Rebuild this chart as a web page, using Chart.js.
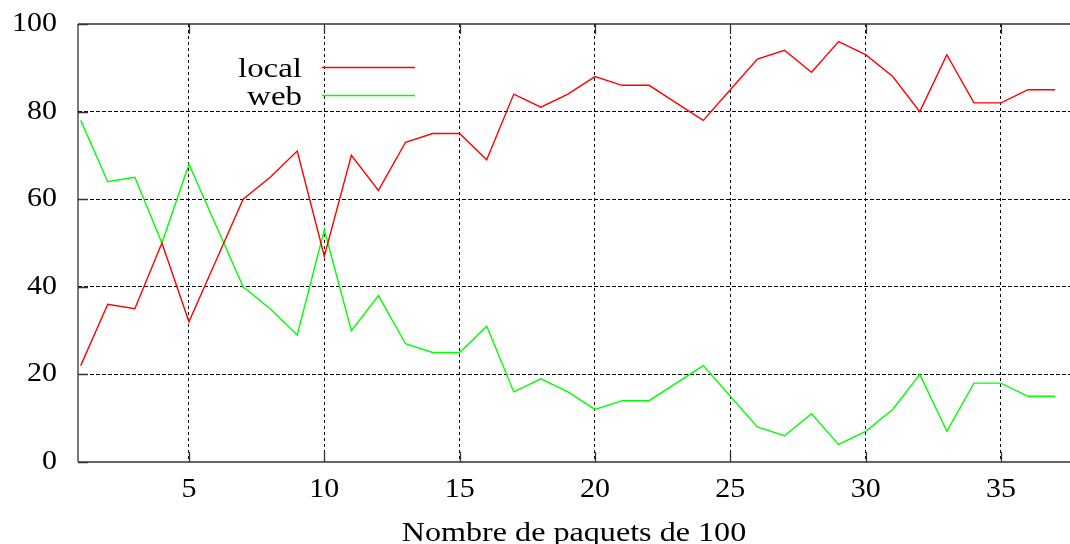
<!DOCTYPE html>
<html>
<head>
<meta charset="utf-8">
<script src="https://cdn.jsdelivr.net/npm/chart.js@4/dist/chart.umd.min.js"></script>
<style>
  html, body { margin: 0; padding: 0; background: #fff; }
  canvas { display: block; }
</style>
</head>
<body>
<canvas id="c" width="1070" height="544" style="width:1070px;height:544px"></canvas>
<script>
const packets = [1,2,3,4,5,6,7,8,9,10,11,12,13,14,15,16,17,18,19,20,21,22,23,24,25,26,27,28,29,30,31,32,33,34,35,36,37];
const localValues = [22,36,35,50,32,46,60,65,71,47,70,62,73,75,75,69,84,81,84,88,86,86,82,78,85,92,94,89,96,93,88,80,93,82,82,85,85];
const webValues = [78,64,65,50,68,54,40,35,29,53,30,38,27,25,25,31,16,19,16,12,14,14,18,22,15,8,6,11,4,7,12,20,7,18,18,15,15];
const xTicks = [5,10,15,20,25,30,35];
const yTicks = [0,20,40,60,80,100];
const seriesNames = ['local', 'web'];
const xTitle = 'Nombre de paquets de 100';

const FONT = '27px "Liberation Serif", "Times New Roman", serif';

function stretchText(ctx, text, x, y, sx, align, baseline) {
  ctx.save();
  ctx.translate(x, y);
  ctx.scale(sx, 1);
  ctx.font = FONT;
  ctx.fillStyle = '#000';
  ctx.textAlign = align;
  ctx.textBaseline = baseline;
  ctx.fillText(text, 0, 0);
  ctx.restore();
}

const framePlugin = {
  id: 'frame',
  beforeDatasetsDraw(chart) {
    const ctx = chart.ctx;
    const a = chart.chartArea;
    const xs = chart.scales.x, ys = chart.scales.y;
    ctx.save();
    ctx.strokeStyle = '#333';
    ctx.lineWidth = 1.3;
    ctx.beginPath();
    ctx.moveTo(a.left, a.top); ctx.lineTo(a.right, a.top);
    ctx.moveTo(a.left, a.top); ctx.lineTo(a.left, a.bottom);
    ctx.moveTo(a.left, a.bottom); ctx.lineTo(a.right, a.bottom);
    const tl = 10;
    xTicks.forEach(v => {
      const px = Math.round(xs.getPixelForValue(v)) + 0.5;
      ctx.moveTo(px, a.bottom); ctx.lineTo(px, a.bottom - tl);
      ctx.moveTo(px, a.top); ctx.lineTo(px, a.top + tl);
    });
    yTicks.forEach(v => {
      const py = Math.round(ys.getPixelForValue(v)) + 0.5;
      ctx.moveTo(a.left, py); ctx.lineTo(a.left + tl, py);
    });
    ctx.stroke();
    ctx.restore();
  },
  afterDraw(chart) {
    const ctx = chart.ctx;
    const xs = chart.scales.x, ys = chart.scales.y;
    yTicks.forEach(v => {
      stretchText(ctx, String(v), 57, ys.getPixelForValue(v), 1.11, 'right', 'middle');
    });
    xTicks.forEach(v => {
      stretchText(ctx, String(v), xs.getPixelForValue(v), 490, 1.11, 'center', 'middle');
    });
    const a = chart.chartArea;
    stretchText(ctx, xTitle, (a.left + a.right) / 2, 541, 1.19, 'center', 'alphabetic');
    const ds = chart.data.datasets;
    const baselines = [77, 105];
    const lineYs = [67.5, 95.5];
    ds.forEach((d, i) => {
      stretchText(ctx, d.label, 302, baselines[i], 1.22, 'right', 'alphabetic');
      ctx.save();
      ctx.strokeStyle = d.borderColor;
      ctx.lineWidth = 1.5;
      ctx.beginPath();
      ctx.moveTo(322, lineYs[i]);
      ctx.lineTo(415, lineYs[i]);
      ctx.stroke();
      ctx.restore();
    });
  }
};

new Chart(document.getElementById('c'), {
  type: 'line',
  data: {
    datasets: [
      {
        label: seriesNames[0],
        data: packets.map((x, i) => ({ x: x, y: localValues[i] })),
        borderColor: 'rgb(255,0,0)',
        borderWidth: 1.4,
        pointRadius: 0,
        tension: 0,
        fill: false
      },
      {
        label: seriesNames[1],
        data: packets.map((x, i) => ({ x: x, y: webValues[i] })),
        borderColor: 'rgb(0,255,0)',
        borderWidth: 1.4,
        pointRadius: 0,
        tension: 0,
        fill: false
      }
    ]
  },
  options: {
    responsive: false,
    animation: false,
    devicePixelRatio: 1,
    layout: { padding: { top: 24, right: 0, left: 0, bottom: 0 } },
    plugins: { legend: { display: false }, tooltip: { enabled: false } },
    scales: {
      x: {
        type: 'linear',
        min: 0.9,
        max: 37.55,
        afterBuildTicks: (s) => { s.ticks = xTicks.map(v => ({ value: v })); },
        afterFit: (s) => { s.height = 82; },
        ticks: { display: false },
        grid: { color: '#000', lineWidth: 1, drawTicks: false },
        border: { display: false, dash: [3, 3] }
      },
      y: {
        min: 0,
        max: 100,
        afterBuildTicks: (s) => { s.ticks = yTicks.map(v => ({ value: v })); },
        afterFit: (s) => { s.width = 78; },
        ticks: { display: false },
        grid: {
          color: (c) => (c.tick && (c.tick.value === 0 || c.tick.value === 100)) ? 'rgba(0,0,0,0)' : '#000',
          lineWidth: 1,
          drawTicks: false
        },
        border: { display: false, dash: [4, 2] }
      }
    }
  },
  plugins: [framePlugin]
});
</script>
</body>
</html>
